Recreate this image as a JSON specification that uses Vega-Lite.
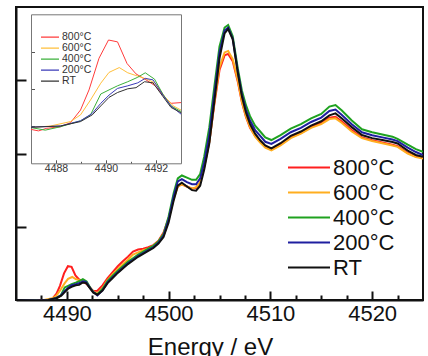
{
"$schema": "https://vega.github.io/schema/vega-lite/v6.json",
"width": 407, "height": 293,
"autosize": {"type": "none"},
"padding": {"left": 16, "top": 7, "right": 5, "bottom": 56},
"background": "white",
"config": {"view": {"stroke": "#111", "strokeWidth": 2}, "font": "Liberation Sans"},
"datasets": {"xas": [
{"s":"800°C","E":4485,"mu":0},{"s":"800°C","E":4486,"mu":-0.002},{"s":"800°C","E":4487,"mu":-0.009},{"s":"800°C","E":4487.3,"mu":-0.013},{"s":"800°C","E":4487.63,"mu":-0.006},{"s":"800°C","E":4488.17,"mu":-0.002},{"s":"800°C","E":4488.58,"mu":0.009},{"s":"800°C","E":4488.98,"mu":0.043},{"s":"800°C","E":4489.32,"mu":0.097},{"s":"800°C","E":4489.72,"mu":0.182},{"s":"800°C","E":4490.1,"mu":0.231},{"s":"800°C","E":4490.46,"mu":0.226},{"s":"800°C","E":4490.84,"mu":0.168},{"s":"800°C","E":4491.2,"mu":0.14},{"s":"800°C","E":4491.6,"mu":0.124},{"s":"800°C","E":4491.97,"mu":0.108},{"s":"800°C","E":4492.35,"mu":0.077},{"s":"800°C","E":4492.6,"mu":0.061},{"s":"800°C","E":4493,"mu":0.063},{"s":"800°C","E":4493.5,"mu":0.1},{"s":"800°C","E":4494,"mu":0.15},{"s":"800°C","E":4494.5,"mu":0.19},{"s":"800°C","E":4495,"mu":0.23},{"s":"800°C","E":4495.5,"mu":0.265},{"s":"800°C","E":4496,"mu":0.295},{"s":"800°C","E":4496.5,"mu":0.33},{"s":"800°C","E":4497,"mu":0.345},{"s":"800°C","E":4497.5,"mu":0.35},{"s":"800°C","E":4498,"mu":0.36},{"s":"800°C","E":4498.5,"mu":0.375},{"s":"800°C","E":4499,"mu":0.405},{"s":"800°C","E":4499.5,"mu":0.46},{"s":"800°C","E":4500,"mu":0.56},{"s":"800°C","E":4500.5,"mu":0.7},{"s":"800°C","E":4500.9,"mu":0.775},{"s":"800°C","E":4501.3,"mu":0.79},{"s":"800°C","E":4501.8,"mu":0.775},{"s":"800°C","E":4502.3,"mu":0.76},{"s":"800°C","E":4502.7,"mu":0.765},{"s":"800°C","E":4503.1,"mu":0.8},{"s":"800°C","E":4503.5,"mu":0.91},{"s":"800°C","E":4504,"mu":1.08},{"s":"800°C","E":4504.5,"mu":1.34},{"s":"800°C","E":4505,"mu":1.57},{"s":"800°C","E":4505.5,"mu":1.67},{"s":"800°C","E":4505.85,"mu":1.68},{"s":"800°C","E":4506.3,"mu":1.63},{"s":"800°C","E":4506.8,"mu":1.49},{"s":"800°C","E":4507.2,"mu":1.35},{"s":"800°C","E":4507.6,"mu":1.25},{"s":"800°C","E":4508,"mu":1.175},{"s":"800°C","E":4508.5,"mu":1.12},{"s":"800°C","E":4509,"mu":1.08},{"s":"800°C","E":4509.5,"mu":1.045},{"s":"800°C","E":4510.1,"mu":1.028},{"s":"800°C","E":4511,"mu":1.06},{"s":"800°C","E":4512,"mu":1.11},{"s":"800°C","E":4513,"mu":1.14},{"s":"800°C","E":4514,"mu":1.18},{"s":"800°C","E":4515,"mu":1.21},{"s":"800°C","E":4515.8,"mu":1.245},{"s":"800°C","E":4516.4,"mu":1.251},{"s":"800°C","E":4517,"mu":1.22},{"s":"800°C","E":4518,"mu":1.16},{"s":"800°C","E":4519,"mu":1.11},{"s":"800°C","E":4520,"mu":1.09},{"s":"800°C","E":4521,"mu":1.075},{"s":"800°C","E":4522,"mu":1.06},{"s":"800°C","E":4522.5,"mu":1.05},{"s":"800°C","E":4523.5,"mu":1.005},{"s":"800°C","E":4524.3,"mu":0.98},{"s":"800°C","E":4525,"mu":0.97},
{"s":"600°C","E":4485,"mu":0},{"s":"600°C","E":4486,"mu":-0.001},{"s":"600°C","E":4487,"mu":-0.004},{"s":"600°C","E":4487.77,"mu":0},{"s":"600°C","E":4488.58,"mu":0.012},{"s":"600°C","E":4488.98,"mu":0.03},{"s":"600°C","E":4489.38,"mu":0.07},{"s":"600°C","E":4489.79,"mu":0.115},{"s":"600°C","E":4490.12,"mu":0.144},{"s":"600°C","E":4490.53,"mu":0.157},{"s":"600°C","E":4490.87,"mu":0.143},{"s":"600°C","E":4491.27,"mu":0.134},{"s":"600°C","E":4491.67,"mu":0.125},{"s":"600°C","E":4491.97,"mu":0.115},{"s":"600°C","E":4492.35,"mu":0.079},{"s":"600°C","E":4492.69,"mu":0.054},{"s":"600°C","E":4493,"mu":0.043},{"s":"600°C","E":4493.5,"mu":0.08},{"s":"600°C","E":4494,"mu":0.135},{"s":"600°C","E":4494.5,"mu":0.175},{"s":"600°C","E":4495,"mu":0.21},{"s":"600°C","E":4495.5,"mu":0.245},{"s":"600°C","E":4496,"mu":0.275},{"s":"600°C","E":4496.5,"mu":0.31},{"s":"600°C","E":4497,"mu":0.325},{"s":"600°C","E":4497.5,"mu":0.34},{"s":"600°C","E":4498,"mu":0.35},{"s":"600°C","E":4498.5,"mu":0.37},{"s":"600°C","E":4499,"mu":0.4},{"s":"600°C","E":4499.5,"mu":0.45},{"s":"600°C","E":4500,"mu":0.55},{"s":"600°C","E":4500.5,"mu":0.69},{"s":"600°C","E":4500.9,"mu":0.775},{"s":"600°C","E":4501.3,"mu":0.79},{"s":"600°C","E":4501.8,"mu":0.775},{"s":"600°C","E":4502.3,"mu":0.76},{"s":"600°C","E":4502.7,"mu":0.77},{"s":"600°C","E":4503.1,"mu":0.8},{"s":"600°C","E":4503.5,"mu":0.91},{"s":"600°C","E":4504,"mu":1.08},{"s":"600°C","E":4504.5,"mu":1.35},{"s":"600°C","E":4505,"mu":1.59},{"s":"600°C","E":4505.5,"mu":1.69},{"s":"600°C","E":4505.85,"mu":1.7},{"s":"600°C","E":4506.3,"mu":1.645},{"s":"600°C","E":4506.8,"mu":1.5},{"s":"600°C","E":4507.2,"mu":1.355},{"s":"600°C","E":4507.6,"mu":1.255},{"s":"600°C","E":4508,"mu":1.18},{"s":"600°C","E":4508.5,"mu":1.115},{"s":"600°C","E":4509,"mu":1.075},{"s":"600°C","E":4509.5,"mu":1.04},{"s":"600°C","E":4510.1,"mu":1.022},{"s":"600°C","E":4511,"mu":1.055},{"s":"600°C","E":4512,"mu":1.105},{"s":"600°C","E":4513,"mu":1.135},{"s":"600°C","E":4514,"mu":1.175},{"s":"600°C","E":4515,"mu":1.2},{"s":"600°C","E":4515.8,"mu":1.235},{"s":"600°C","E":4516.4,"mu":1.24},{"s":"600°C","E":4517,"mu":1.21},{"s":"600°C","E":4518,"mu":1.15},{"s":"600°C","E":4519,"mu":1.105},{"s":"600°C","E":4520,"mu":1.085},{"s":"600°C","E":4521,"mu":1.07},{"s":"600°C","E":4522,"mu":1.055},{"s":"600°C","E":4522.5,"mu":1.045},{"s":"600°C","E":4523.5,"mu":1},{"s":"600°C","E":4524.3,"mu":0.975},{"s":"600°C","E":4525,"mu":0.965},
{"s":"400°C","E":4485,"mu":0},{"s":"400°C","E":4486,"mu":-0.003},{"s":"400°C","E":4487,"mu":-0.004},{"s":"400°C","E":4487.57,"mu":-0.011},{"s":"400°C","E":4488.17,"mu":-0.002},{"s":"400°C","E":4488.98,"mu":0.014},{"s":"400°C","E":4489.38,"mu":0.03},{"s":"400°C","E":4489.79,"mu":0.086},{"s":"400°C","E":4490.12,"mu":0.097},{"s":"400°C","E":4490.46,"mu":0.108},{"s":"400°C","E":4490.87,"mu":0.119},{"s":"400°C","E":4491.27,"mu":0.131},{"s":"400°C","E":4491.57,"mu":0.143},{"s":"400°C","E":4491.94,"mu":0.126},{"s":"400°C","E":4492.28,"mu":0.085},{"s":"400°C","E":4492.6,"mu":0.054},{"s":"400°C","E":4493,"mu":0.039},{"s":"400°C","E":4493.5,"mu":0.075},{"s":"400°C","E":4494,"mu":0.13},{"s":"400°C","E":4494.5,"mu":0.165},{"s":"400°C","E":4495,"mu":0.2},{"s":"400°C","E":4495.5,"mu":0.23},{"s":"400°C","E":4496,"mu":0.26},{"s":"400°C","E":4496.5,"mu":0.285},{"s":"400°C","E":4497,"mu":0.31},{"s":"400°C","E":4497.5,"mu":0.33},{"s":"400°C","E":4498,"mu":0.35},{"s":"400°C","E":4498.5,"mu":0.37},{"s":"400°C","E":4499,"mu":0.4},{"s":"400°C","E":4499.5,"mu":0.45},{"s":"400°C","E":4500,"mu":0.57},{"s":"400°C","E":4500.5,"mu":0.73},{"s":"400°C","E":4500.9,"mu":0.83},{"s":"400°C","E":4501.3,"mu":0.85},{"s":"400°C","E":4501.8,"mu":0.835},{"s":"400°C","E":4502.3,"mu":0.82},{"s":"400°C","E":4502.7,"mu":0.82},{"s":"400°C","E":4503.1,"mu":0.86},{"s":"400°C","E":4503.5,"mu":0.98},{"s":"400°C","E":4504,"mu":1.18},{"s":"400°C","E":4504.5,"mu":1.46},{"s":"400°C","E":4505,"mu":1.73},{"s":"400°C","E":4505.5,"mu":1.86},{"s":"400°C","E":4505.85,"mu":1.877},{"s":"400°C","E":4506.3,"mu":1.8},{"s":"400°C","E":4506.8,"mu":1.58},{"s":"400°C","E":4507.2,"mu":1.43},{"s":"400°C","E":4507.6,"mu":1.33},{"s":"400°C","E":4508,"mu":1.255},{"s":"400°C","E":4508.5,"mu":1.19},{"s":"400°C","E":4509,"mu":1.15},{"s":"400°C","E":4509.5,"mu":1.11},{"s":"400°C","E":4510.1,"mu":1.092},{"s":"400°C","E":4511,"mu":1.125},{"s":"400°C","E":4512,"mu":1.17},{"s":"400°C","E":4513,"mu":1.2},{"s":"400°C","E":4514,"mu":1.24},{"s":"400°C","E":4515,"mu":1.27},{"s":"400°C","E":4515.8,"mu":1.32},{"s":"400°C","E":4516.4,"mu":1.331},{"s":"400°C","E":4517,"mu":1.295},{"s":"400°C","E":4518,"mu":1.225},{"s":"400°C","E":4519,"mu":1.165},{"s":"400°C","E":4520,"mu":1.145},{"s":"400°C","E":4521,"mu":1.13},{"s":"400°C","E":4522,"mu":1.115},{"s":"400°C","E":4522.5,"mu":1.1},{"s":"400°C","E":4523.5,"mu":1.06},{"s":"400°C","E":4524.3,"mu":1.03},{"s":"400°C","E":4525,"mu":1.012},
{"s":"200°C","E":4485,"mu":0},{"s":"200°C","E":4486,"mu":-0.002},{"s":"200°C","E":4487,"mu":-0.003},{"s":"200°C","E":4488.17,"mu":0},{"s":"200°C","E":4488.98,"mu":0.014},{"s":"200°C","E":4489.45,"mu":0.034},{"s":"200°C","E":4489.79,"mu":0.061},{"s":"200°C","E":4490.12,"mu":0.083},{"s":"200°C","E":4490.46,"mu":0.101},{"s":"200°C","E":4490.87,"mu":0.108},{"s":"200°C","E":4491.27,"mu":0.116},{"s":"200°C","E":4491.57,"mu":0.128},{"s":"200°C","E":4491.88,"mu":0.124},{"s":"200°C","E":4492.28,"mu":0.083},{"s":"200°C","E":4492.6,"mu":0.054},{"s":"200°C","E":4493,"mu":0.032},{"s":"200°C","E":4493.5,"mu":0.065},{"s":"200°C","E":4494,"mu":0.12},{"s":"200°C","E":4494.5,"mu":0.155},{"s":"200°C","E":4495,"mu":0.19},{"s":"200°C","E":4495.5,"mu":0.22},{"s":"200°C","E":4496,"mu":0.25},{"s":"200°C","E":4496.5,"mu":0.275},{"s":"200°C","E":4497,"mu":0.3},{"s":"200°C","E":4497.5,"mu":0.32},{"s":"200°C","E":4498,"mu":0.34},{"s":"200°C","E":4498.5,"mu":0.36},{"s":"200°C","E":4499,"mu":0.39},{"s":"200°C","E":4499.5,"mu":0.44},{"s":"200°C","E":4500,"mu":0.55},{"s":"200°C","E":4500.5,"mu":0.71},{"s":"200°C","E":4500.9,"mu":0.81},{"s":"200°C","E":4501.3,"mu":0.825},{"s":"200°C","E":4501.8,"mu":0.805},{"s":"200°C","E":4502.3,"mu":0.79},{"s":"200°C","E":4502.7,"mu":0.79},{"s":"200°C","E":4503.1,"mu":0.83},{"s":"200°C","E":4503.5,"mu":0.94},{"s":"200°C","E":4504,"mu":1.13},{"s":"200°C","E":4504.5,"mu":1.41},{"s":"200°C","E":4505,"mu":1.69},{"s":"200°C","E":4505.5,"mu":1.84},{"s":"200°C","E":4505.85,"mu":1.86},{"s":"200°C","E":4506.3,"mu":1.785},{"s":"200°C","E":4506.8,"mu":1.56},{"s":"200°C","E":4507.2,"mu":1.405},{"s":"200°C","E":4507.6,"mu":1.3},{"s":"200°C","E":4508,"mu":1.225},{"s":"200°C","E":4508.5,"mu":1.16},{"s":"200°C","E":4509,"mu":1.12},{"s":"200°C","E":4509.5,"mu":1.08},{"s":"200°C","E":4510.1,"mu":1.065},{"s":"200°C","E":4511,"mu":1.1},{"s":"200°C","E":4512,"mu":1.145},{"s":"200°C","E":4513,"mu":1.175},{"s":"200°C","E":4514,"mu":1.215},{"s":"200°C","E":4515,"mu":1.245},{"s":"200°C","E":4515.8,"mu":1.29},{"s":"200°C","E":4516.4,"mu":1.3},{"s":"200°C","E":4517,"mu":1.265},{"s":"200°C","E":4518,"mu":1.2},{"s":"200°C","E":4519,"mu":1.145},{"s":"200°C","E":4520,"mu":1.125},{"s":"200°C","E":4521,"mu":1.11},{"s":"200°C","E":4522,"mu":1.095},{"s":"200°C","E":4522.5,"mu":1.085},{"s":"200°C","E":4523.5,"mu":1.04},{"s":"200°C","E":4524.3,"mu":1.01},{"s":"200°C","E":4525,"mu":0.99},
{"s":"RT","E":4485,"mu":0},{"s":"RT","E":4486,"mu":-0.002},{"s":"RT","E":4487,"mu":-0.003},{"s":"RT","E":4488.17,"mu":0},{"s":"RT","E":4488.98,"mu":0.012},{"s":"RT","E":4489.45,"mu":0.03},{"s":"RT","E":4489.79,"mu":0.054},{"s":"RT","E":4490.12,"mu":0.077},{"s":"RT","E":4490.46,"mu":0.09},{"s":"RT","E":4490.87,"mu":0.1},{"s":"RT","E":4491.2,"mu":0.103},{"s":"RT","E":4491.54,"mu":0.119},{"s":"RT","E":4491.88,"mu":0.116},{"s":"RT","E":4492.28,"mu":0.079},{"s":"RT","E":4492.6,"mu":0.05},{"s":"RT","E":4493,"mu":0.036},{"s":"RT","E":4493.5,"mu":0.065},{"s":"RT","E":4494,"mu":0.115},{"s":"RT","E":4494.5,"mu":0.15},{"s":"RT","E":4495,"mu":0.185},{"s":"RT","E":4495.5,"mu":0.215},{"s":"RT","E":4496,"mu":0.245},{"s":"RT","E":4496.5,"mu":0.27},{"s":"RT","E":4497,"mu":0.295},{"s":"RT","E":4497.5,"mu":0.315},{"s":"RT","E":4498,"mu":0.335},{"s":"RT","E":4498.5,"mu":0.355},{"s":"RT","E":4499,"mu":0.385},{"s":"RT","E":4499.5,"mu":0.43},{"s":"RT","E":4500,"mu":0.53},{"s":"RT","E":4500.5,"mu":0.68},{"s":"RT","E":4500.9,"mu":0.78},{"s":"RT","E":4501.3,"mu":0.8},{"s":"RT","E":4501.8,"mu":0.775},{"s":"RT","E":4502.3,"mu":0.75},{"s":"RT","E":4502.7,"mu":0.746},{"s":"RT","E":4503.1,"mu":0.78},{"s":"RT","E":4503.5,"mu":0.89},{"s":"RT","E":4504,"mu":1.07},{"s":"RT","E":4504.5,"mu":1.36},{"s":"RT","E":4505,"mu":1.65},{"s":"RT","E":4505.5,"mu":1.82},{"s":"RT","E":4505.85,"mu":1.85},{"s":"RT","E":4506.3,"mu":1.78},{"s":"RT","E":4506.8,"mu":1.55},{"s":"RT","E":4507.2,"mu":1.39},{"s":"RT","E":4507.6,"mu":1.28},{"s":"RT","E":4508,"mu":1.2},{"s":"RT","E":4508.5,"mu":1.135},{"s":"RT","E":4509,"mu":1.09},{"s":"RT","E":4509.5,"mu":1.055},{"s":"RT","E":4510.1,"mu":1.035},{"s":"RT","E":4511,"mu":1.07},{"s":"RT","E":4512,"mu":1.12},{"s":"RT","E":4513,"mu":1.15},{"s":"RT","E":4514,"mu":1.19},{"s":"RT","E":4515,"mu":1.22},{"s":"RT","E":4515.8,"mu":1.26},{"s":"RT","E":4516.4,"mu":1.274},{"s":"RT","E":4517,"mu":1.24},{"s":"RT","E":4518,"mu":1.18},{"s":"RT","E":4519,"mu":1.126},{"s":"RT","E":4520,"mu":1.105},{"s":"RT","E":4521,"mu":1.092},{"s":"RT","E":4522,"mu":1.078},{"s":"RT","E":4522.5,"mu":1.068},{"s":"RT","E":4523.5,"mu":1.02},{"s":"RT","E":4524.3,"mu":0.99},{"s":"RT","E":4525,"mu":0.978}
]},
"data": {"name": "xas"},
"layer": [
{
"mark": {"type": "line", "strokeWidth": 2, "clip": true},
"encoding": {
"x": {"field": "E", "type": "quantitative",
 "scale": {"domain": [4485, 4525], "nice": false, "zero": false},
 "axis": {"values": [4487.5,4490,4492.5,4495,4497.5,4500,4502.5,4505,4507.5,4510,4512.5,4515,4517.5,4520,4522.5],
  "format": "d", "labelExpr": "datum.value % 10 === 0 ? datum.label : ''", "labelOverlap": false, "labelFlush": false,
  "tickSize": {"condition": {"test": "datum.value % 10 === 0", "value": -9}, "value": -5},
  "tickWidth": 2, "tickColor": "#111", "domainColor": "#111", "domainWidth": 2, "grid": false,
  "labelFontSize": 22, "labelColor": "#111", "labelPadding": 12,
  "title": "Energy / eV", "titleFontSize": 24, "titleFontWeight": "normal", "titleColor": "#111",
  "titleX": 194, "titleY": 54, "titleBaseline": "alphabetic", "titleAnchor": null}},
"y": {"field": "mu", "type": "quantitative",
 "scale": {"domain": [0, 2], "nice": false, "zero": false},
 "axis": {"values": [0.5, 1, 1.5], "labels": false, "title": null, "grid": false,
  "tickSize": -10, "tickWidth": 2, "tickColor": "#111", "domainColor": "#111", "domainWidth": 2}},
"color": {"field": "s", "type": "nominal",
 "scale": {"domain": ["800°C","600°C","400°C","200°C","RT"], "range": ["#ff1f1f","#ffae1f","#1fa21f","#1f1fa0","#111111"]},
 "legend": {"orient": "none", "legendX": 271, "legendY": 148, "title": null, "symbolType": "stroke", "symbolSize": 1764,
  "symbolStrokeWidth": 2, "labelFontSize": 22, "labelColor": "#111", "labelOffset": 2, "rowPadding": 0, "clipHeight": 25}}
}
},
{
"transform": [{"filter": "datum.E >= 4487 && datum.E <= 4493"}],
"layer": [
{
"mark": {"type": "line", "strokeWidth": 1},
"encoding": {
"x": {"field": "E", "type": "quantitative",
 "scale": {"domain": [4487, 4493], "range": [15, 165], "nice": false, "zero": false},
 "axis": {"orient": "bottom", "offset": -136.7, "values": [4488, 4489, 4490, 4491, 4492], "format": "d",
  "labelExpr": "datum.value % 2 === 0 ? datum.label : ''", "labelOverlap": false, "labelFlush": false,
  "tickSize": {"condition": {"test": "datum.value % 2 === 0", "value": -3.5}, "value": -2},
  "tickWidth": 1, "tickColor": "#555", "domainColor": "#777", "domainWidth": 1, "grid": false,
  "labelFontSize": 10.5, "labelColor": "#333", "labelPadding": 4, "title": null}},
"y": {"field": "mu", "type": "quantitative",
 "scale": {"domain": [-0.1, 0.3], "range": [156.3, 7.3], "nice": false, "zero": false},
 "axis": {"orient": "left", "offset": -15, "values": [0, 0.1, 0.2], "labels": false, "title": null, "grid": false,
  "tickSize": -3.5, "tickWidth": 1, "tickColor": "#555", "domainColor": "#777", "domainWidth": 1}},
"color": {"field": "s", "type": "nominal",
 "scale": {"domain": ["800°C","600°C","400°C","200°C","RT"], "range": ["#ff3b3b","#ffbf3b","#3bb03b","#3b3bb8","#333333"]},
 "legend": {"orient": "none", "legendX": 24, "legendY": 24.7, "title": null, "symbolType": "stroke", "symbolSize": 324,
  "symbolStrokeWidth": 1.3, "symbolOpacity": 1, "labelFontSize": 10.5, "labelColor": "#333", "labelOffset": 2, "rowPadding": 0, "clipHeight": 10.7}}
}
},
{
"mark": {"type": "point", "opacity": 0},
"encoding": {
"x": {"field": "E", "type": "quantitative",
 "scale": {"domain": [4487, 4493], "range": [15, 165], "nice": false, "zero": false},
 "axis": {"orient": "top", "offset": -7.3, "labels": false, "ticks": false, "title": null, "grid": false, "domainColor": "#777", "domainWidth": 1}},
"y": {"field": "mu", "type": "quantitative",
 "scale": {"domain": [-0.1, 0.3], "range": [156.3, 7.3], "nice": false, "zero": false},
 "axis": {"orient": "right", "offset": -242, "labels": false, "ticks": false, "title": null, "grid": false, "domainColor": "#777", "domainWidth": 1}}
}
}
],
"resolve": {"axis": {"x": "independent", "y": "independent"}}
}
],
"resolve": {"scale": {"x": "independent", "y": "independent", "color": "independent"}, "axis": {"x": "independent", "y": "independent"}, "legend": {"color": "independent"}}
}
